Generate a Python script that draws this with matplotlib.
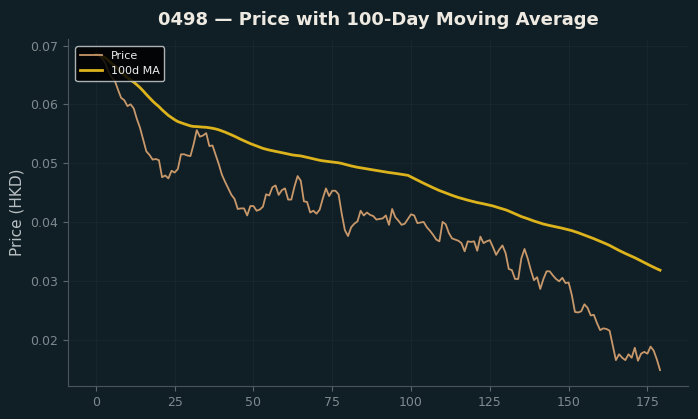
import matplotlib
matplotlib.use("Agg")
import matplotlib.pyplot as plt
import pandas as pd

# daily close (day 0..179)
price = [
    0.0685, 0.0683, 0.0678, 0.0670, 0.0655, 0.0646, 0.0640, 0.0625, 0.0611, 0.0607,
    0.0597, 0.0600, 0.0593, 0.0575, 0.0560, 0.0540, 0.0520, 0.0514, 0.0506, 0.0507,
    0.0505, 0.0476, 0.0479, 0.0474, 0.0487, 0.0484, 0.0490, 0.0515, 0.0515, 0.0513,
    0.0512, 0.0532, 0.0556, 0.0545, 0.0547, 0.0551, 0.0529, 0.0530, 0.0514, 0.0498,
    0.0480, 0.0468, 0.0457, 0.0446, 0.0439, 0.0422, 0.0423, 0.0423, 0.0411, 0.0427,
    0.0427, 0.0419, 0.0421, 0.0426, 0.0447, 0.0445, 0.0459, 0.0462, 0.0446, 0.0454,
    0.0457, 0.0438, 0.0438, 0.0460, 0.0478, 0.0470, 0.0435, 0.0434, 0.0416, 0.0419,
    0.0414, 0.0421, 0.0440, 0.0457, 0.0444, 0.0453, 0.0453, 0.0447, 0.0414, 0.0386,
    0.0376, 0.0391, 0.0397, 0.0401, 0.0419, 0.0411, 0.0416, 0.0412, 0.0410, 0.0404,
    0.0405, 0.0406, 0.0411, 0.0395, 0.0422, 0.0408, 0.0402, 0.0395, 0.0397, 0.0405,
    0.0413, 0.0411, 0.0398, 0.0399, 0.0400, 0.0391, 0.0385, 0.0378, 0.0370, 0.0367,
    0.0400, 0.0396, 0.0381, 0.0372, 0.0370, 0.0368, 0.0364, 0.0350, 0.0367, 0.0366,
    0.0367, 0.0351, 0.0375, 0.0364, 0.0367, 0.0369, 0.0357, 0.0344, 0.0353, 0.0360,
    0.0347, 0.0320, 0.0318, 0.0303, 0.0303, 0.0338, 0.0354, 0.0338, 0.0318, 0.0301,
    0.0306, 0.0286, 0.0303, 0.0316, 0.0316, 0.0309, 0.0303, 0.0299, 0.0305, 0.0296,
    0.0297, 0.0276, 0.0247, 0.0246, 0.0248, 0.0260, 0.0254, 0.0241, 0.0242, 0.0228,
    0.0216, 0.0219, 0.0218, 0.0215, 0.0190, 0.0165, 0.0175, 0.0169, 0.0165, 0.0175,
    0.0169, 0.0186, 0.0164, 0.0176, 0.0179, 0.0176, 0.0188, 0.0181, 0.0166, 0.0148,
]
window = 100
title = "0498 — Price with 100-Day Moving Average"

bg = "#101f26"

def main():
  s = pd.Series(price)
  ma = s.rolling(window, min_periods=1).mean()

  fig = plt.figure(figsize=(6.98, 4.19), dpi=100, facecolor=bg)
  ax = fig.add_axes([0.097, 0.079, 0.889, 0.829], facecolor=bg)

  ax.plot(s.index, s.values, color="#c8986a", lw=1.3, label="Price")
  ax.plot(ma.index, ma.values, color="#dcb31c", lw=2.0, label="100d MA")

  ax.grid(True, color="#17262c", lw=0.8)
  ax.set_axisbelow(True)
  for side in ["top", "right"]:
    ax.spines[side].set_visible(False)
  for side in ["left", "bottom"]:
    ax.spines[side].set_color("#4a5559")
  ax.tick_params(colors="#5d686c", labelcolor="#7f8a8e", labelsize=9)
  ax.set_xticks([0, 25, 50, 75, 100, 125, 150, 175])

  ax.set_ylabel("Price (HKD)", color="#b9c0c3", fontsize=11)
  ax.set_title(title, color="#eeeae2", fontsize=13, fontweight="bold", pad=10)

  ax.legend(loc="upper left", fontsize=8, facecolor="#000000",
            edgecolor="#c9cfd1", framealpha=0.85, labelcolor="#eeeeee",
            borderaxespad=0.7)

  fig.savefig("out.png", dpi=100, facecolor=bg)

if __name__ == "__main__":
  main()
